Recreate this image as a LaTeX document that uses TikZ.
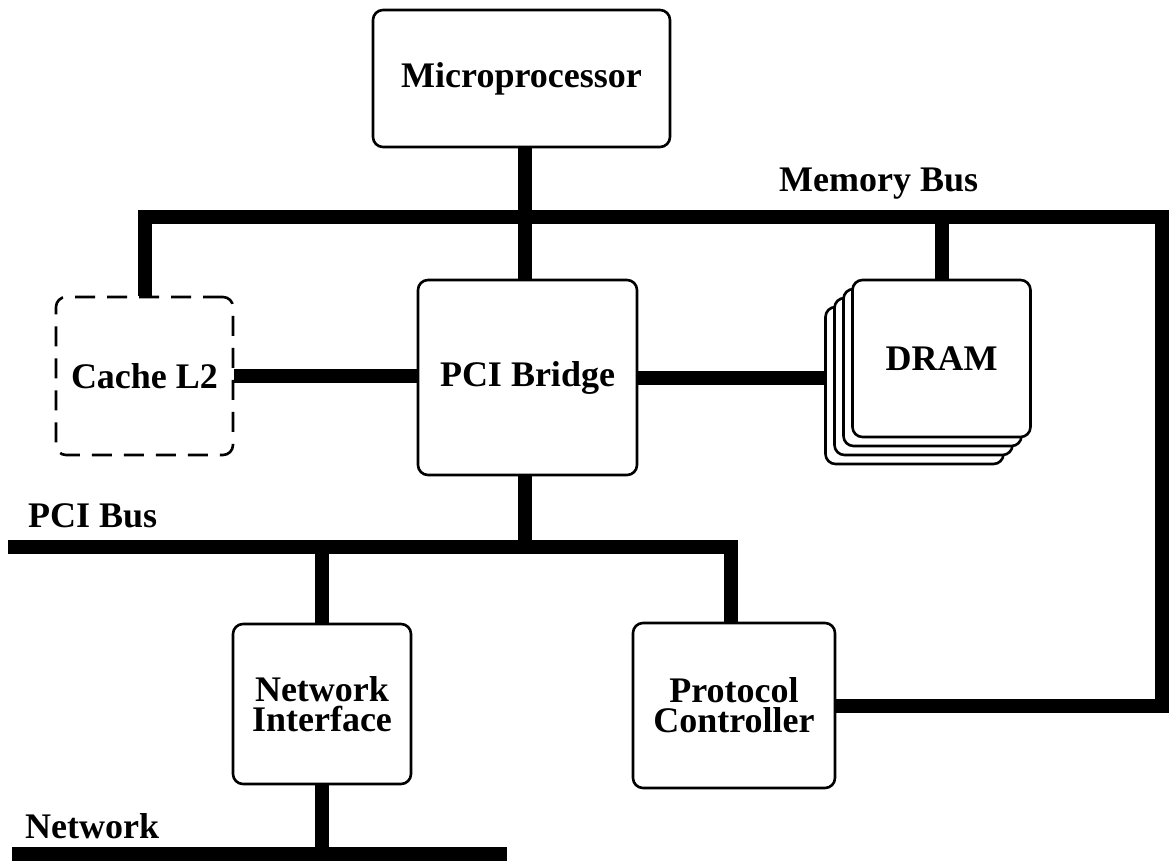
\documentclass[tikz,border=0pt]{standalone}
\usepackage{fontspec}
\setmainfont{Liberation Serif}
\begin{document}
\begin{tikzpicture}[x=1pt,y=-1pt,
  box/.style={draw, line width=2.6pt, rounded corners=10pt, fill=white, inner sep=0pt,
    align=center, font=\fontsize{36}{30}\selectfont\bfseries},
  dashbox/.style={box, dash pattern=on 20pt off 12pt},
  bus/.style={line width=14pt, line join=miter},
  lbl/.style={font=\fontsize{36}{36}\selectfont\bfseries, anchor=base west, inner sep=0pt}]
\useasboundingbox (0,0) rectangle (1170,861);

% boxes
\node[box, minimum width=297pt, minimum height=137pt] (mp) at (521.5,78.5) {Microprocessor};
\node[dashbox, minimum width=177pt, minimum height=158pt] (cache) at (144.5,376) {Cache L2};
\node[box, minimum width=219pt, minimum height=195pt] (br) at (527.5,377.5) {PCI Bridge};
\node[box, minimum width=178pt, minimum height=157pt] (d4) at (914.5,385.5) {};
\node[box, minimum width=178pt, minimum height=157pt] (d3) at (923.5,376.5) {};
\node[box, minimum width=178pt, minimum height=157pt] (d2) at (932.5,367.5) {};
\node[box, minimum width=178pt, minimum height=157pt] (dram) at (941.5,358.5) {DRAM};
\node[box, minimum width=178pt, minimum height=160pt] (ni) at (322,704) {Network\\Interface};
\node[box, minimum width=202pt, minimum height=165pt] (pc) at (734,705.5) {Protocol\\Controller};

% bus coordinates
\coordinate (cpux) at (525,217);
\coordinate (mbR) at (1162,217);
\coordinate (pciL) at (8,547);
\coordinate (pcib) at (525,547);
\coordinate (pcix) at (731,547);
\coordinate (netL) at (12,854);
\coordinate (netR) at (507,854);

% memory bus
\draw[bus] (cache.north) -- (cache.north |- mbR) -- (mbR) -- (mbR |- pc.east) -- (pc.east);
\draw[bus] (cpux |- mp.south) -- (cpux);
\draw[bus] (cpux) -- (cpux |- br.north);
\draw[bus] (dram.north |- mbR) -- (dram.north);

% bridge links
\draw[bus] (cache.east) -- (cache.east -| br.west);
\draw[bus] (br.east) -- (br.east -| d4.west);

% PCI bus
\draw[bus] (cpux |- br.south) -- (pcib);
\draw[bus] (pciL) -- (pcix) -- (pcix |- pc.north);
\draw[bus] (ni.north |- pciL) -- (ni.north);

% network
\draw[bus] (ni.south) -- (ni.south |- netL);
\draw[bus] (netL) -- (netR);

% labels
\node[lbl] (lmb) at (779,192) {Memory Bus};
\node[lbl] (lpci) at (28,527) {PCI Bus};
\node[lbl] (lnet) at (25,838) {Network};
\end{tikzpicture}
\end{document}
